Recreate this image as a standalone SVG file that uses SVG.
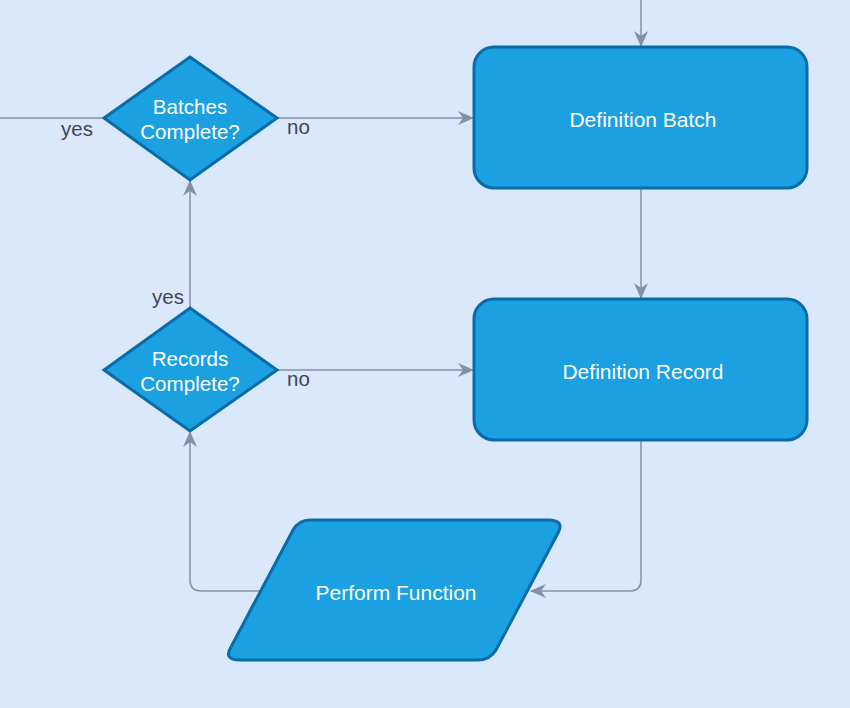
<svg xmlns="http://www.w3.org/2000/svg" width="850" height="708" viewBox="0 0 850 708">
<defs>
<marker id="arr" viewBox="0 0 16 14" refX="15" refY="7" markerWidth="16" markerHeight="14" markerUnits="userSpaceOnUse" orient="auto">
<path d="M0,0 L16,7 L0,14 L5,7 Z" fill="#8391a7"/>
</marker>
</defs>
<style>
.shape{fill:#1ba0e2;stroke:#0a6aaa;stroke-width:3}
.lbl{font-family:"Liberation Sans",Arial,sans-serif;font-size:20.6px;fill:#ffffff;text-anchor:middle}
.el{font-family:"Liberation Sans",Arial,sans-serif;font-size:20.5px;fill:#444455}
.conn{fill:none;stroke:#8391a7;stroke-width:1.5}
</style>
<rect width="850" height="708" fill="#dae8fb"/>
<g id="connectors">
<path class="conn" d="M641,0 L641,46" marker-end="url(#arr)"/>
<path class="conn" d="M0,118 L104,118"/>
<path class="conn" d="M277,118 L473,118" marker-end="url(#arr)"/>
<path class="conn" d="M641,188 L641,298" marker-end="url(#arr)"/>
<path class="conn" d="M277,370 L473,370" marker-end="url(#arr)"/>
<path class="conn" d="M190,308 L190,181" marker-end="url(#arr)"/>
<path class="conn" d="M641,440 L641,580 Q641,591 630,591 L531,591" marker-end="url(#arr)"/>
<path class="conn" d="M262,591 L201,591 Q190,591 190,580 L190,432" marker-end="url(#arr)"/>
<text class="el" x="61" y="136">yes</text>
<text class="el" x="287" y="134">no</text>
<text class="el" x="152" y="304">yes</text>
<text class="el" x="287" y="386">no</text>
</g>
<g id="batches-complete">
<path class="shape" d="M190,57 L277,118 L190,180 L104,118 Z"/>
<text class="lbl" x="190" y="114">Batches</text>
<text class="lbl" x="190" y="139">Complete?</text>
</g>
<g id="definition-batch">
<rect class="shape" x="474" y="47" width="333" height="141" rx="20"/>
<text class="lbl" x="643" y="127" style="font-size:21px">Definition Batch</text>
</g>
<g id="records-complete">
<path class="shape" d="M190,308 L277,370 L190,431 L104,370 Z"/>
<text class="lbl" x="190" y="366">Records</text>
<text class="lbl" x="190" y="391">Complete?</text>
</g>
<g id="definition-record">
<rect class="shape" x="474" y="299" width="333" height="141" rx="20"/>
<text class="lbl" x="643" y="379" style="font-size:21px">Definition Record</text>
</g>
<g id="perform-function">
<path class="shape" d="M310,520 L548,520 Q565,520 558,533 L496,650 Q490,660 478,660 L240,660 Q223,660 231,647 L293,530 Q299,520 310,520 Z"/>
<text class="lbl" x="396" y="600" style="font-size:21px">Perform Function</text>
</g>
</svg>
